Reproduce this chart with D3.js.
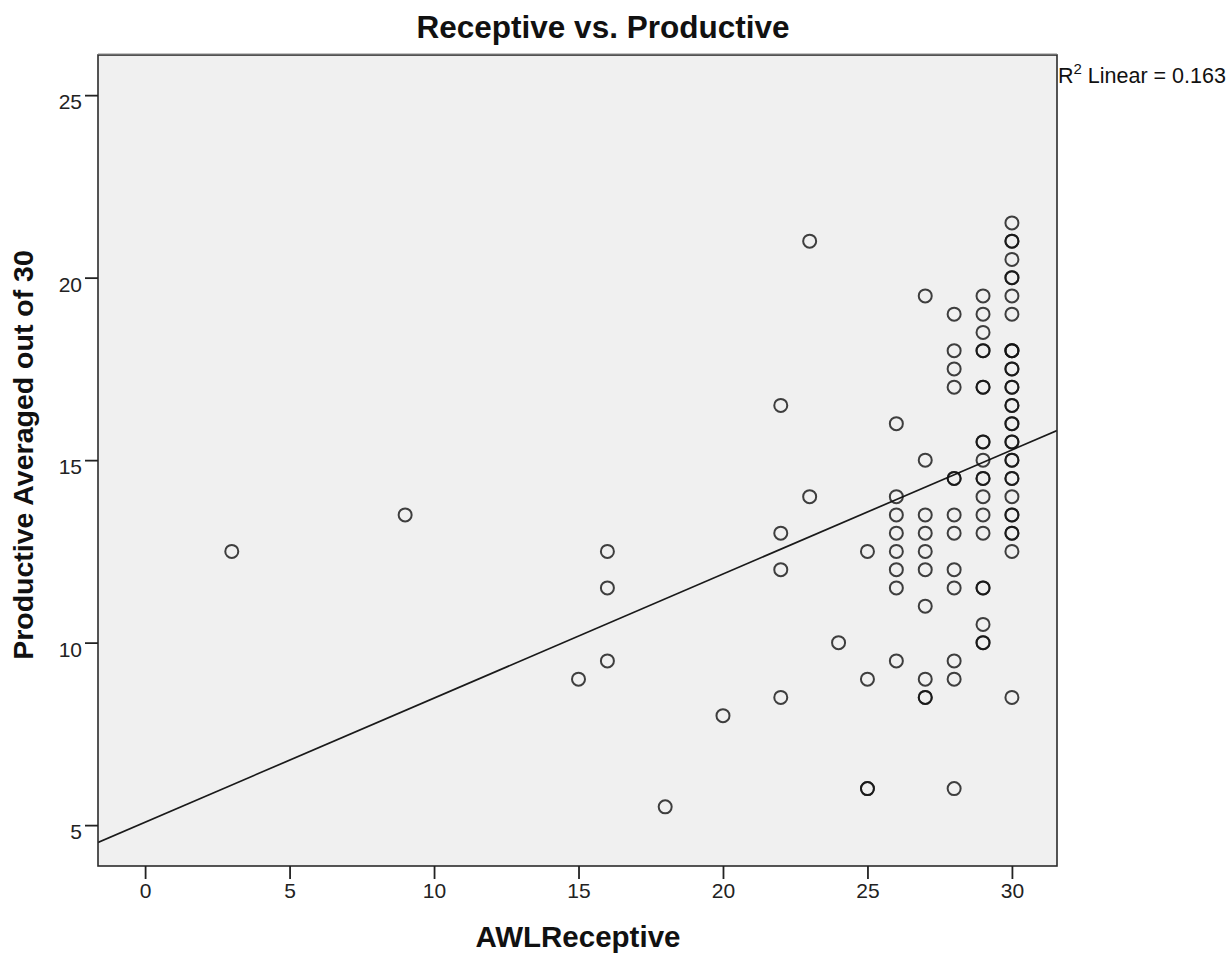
<!DOCTYPE html>
<html>
<head>
<meta charset="utf-8">
<script src="https://cdn.jsdelivr.net/npm/d3@7"></script>
<style>
  html, body { margin: 0; padding: 0; background: #fff; }
  svg { display: block; }
</style>
</head>
<body>
<svg id="chart" width="1231" height="954"></svg>
<script>
// ---- Data ----
const title = "Receptive vs. Productive";
const xLabel = "AWLReceptive";
const yLabel = "Productive Averaged out of 30";
const xTicks = [0, 5, 10, 15, 20, 25, 30];
const yTicks = [5, 10, 15, 20, 25];
const fitIntercept = 5.08;
const fitSlope = 0.34;
const rSquared = "0.163";

const receptive = [
  3, 9, 15, 16, 16, 16, 18, 20,
  22, 22, 22, 22, 23, 23, 24,
  25, 25, 25, 25,
  26, 26, 26, 26, 26, 26, 26, 26,
  27, 27, 27, 27, 27, 27, 27, 27, 27, 27,
  28, 28, 28, 28, 28, 28, 28, 28, 28, 28, 28, 28, 28,
  29, 29, 29, 29, 29, 29, 29, 29, 29, 29, 29, 29, 29, 29, 29, 29, 29, 29, 29, 29,
  30, 30, 30, 30, 30, 30, 30, 30, 30, 30, 30, 30, 30, 30, 30, 30,
  30, 30, 30, 30, 30, 30, 30, 30, 30, 30, 30, 30, 30, 30, 30, 30
];
const productive = [
  12.5, 13.5, 9, 12.5, 11.5, 9.5, 5.5, 8,
  16.5, 13, 12, 8.5, 21, 14, 10,
  12.5, 9, 6, 6,
  16, 14, 13.5, 13, 12.5, 12, 11.5, 9.5,
  19.5, 15, 13.5, 13, 12.5, 12, 11, 9, 8.5, 8.5,
  19, 18, 17.5, 17, 14.5, 14.5, 13.5, 13, 12, 11.5, 9.5, 9, 6,
  19.5, 19, 18.5, 18, 18, 17, 17, 15.5, 15.5, 15, 14.5, 14.5, 14, 13.5, 13, 11.5, 11.5, 10.5, 10, 10,
  21.5, 21, 21, 20.5, 20, 20, 19.5, 19, 18, 18, 18, 17.5, 17.5, 17, 17, 16.5,
  16.5, 16, 16, 15.5, 15.5, 15, 15, 14.5, 14.5, 14, 13.5, 13.5, 13, 13, 12.5, 8.5
];

// ---- Layout ----
const svg = d3.select("#chart");
const plot = { left: 98, top: 55, right: 1057, bottom: 866 };
const font = "'Liberation Sans', Arial, sans-serif";

const x = d3.scaleLinear().domain([-1.63, 31.56]).range([plot.left, plot.right]);
const y = d3.scaleLinear().domain([3.88, 26.1]).range([plot.bottom, plot.top]);

// plot background
svg.append("rect")
  .attr("x", plot.left).attr("y", plot.top)
  .attr("width", plot.right - plot.left).attr("height", plot.bottom - plot.top)
  .attr("fill", "#f0f0f0");

// clip
svg.append("clipPath").attr("id", "clip")
  .append("rect")
  .attr("x", plot.left).attr("y", plot.top)
  .attr("width", plot.right - plot.left).attr("height", plot.bottom - plot.top);

// fit line
const xd = x.domain();
svg.append("line")
  .attr("clip-path", "url(#clip)")
  .attr("x1", x(xd[0])).attr("y1", y(fitIntercept + fitSlope * xd[0]))
  .attr("x2", x(xd[1])).attr("y2", y(fitIntercept + fitSlope * xd[1]))
  .attr("stroke", "#1a1a1a").attr("stroke-width", 1.7);

// points
const pts = receptive.map((v, i) => ({ x: v, y: productive[i] }));
svg.append("g").attr("clip-path", "url(#clip)")
  .selectAll("circle").data(pts).join("circle")
  .attr("cx", d => x(d.x)).attr("cy", d => y(d.y))
  .attr("r", 6.5)
  .attr("fill", "none")
  .attr("stroke", "#111")
  .attr("stroke-opacity", 0.8)
  .attr("stroke-width", 2);

// frame
svg.append("rect")
  .attr("x", plot.left).attr("y", plot.top)
  .attr("width", plot.right - plot.left).attr("height", plot.bottom - plot.top)
  .attr("fill", "none").attr("stroke", "#2b2b2b").attr("stroke-width", 1.6);
svg.append("line")
  .attr("x1", plot.left).attr("x2", plot.right)
  .attr("y1", plot.top - 1).attr("y2", plot.top - 1)
  .attr("stroke", "#888").attr("stroke-width", 1);

// axes
const xAxis = d3.axisBottom(x).tickValues(xTicks).tickSize(13).tickPadding(3);
const gx = svg.append("g").attr("transform", `translate(0,${plot.bottom})`).call(xAxis);
gx.select(".domain").remove();
gx.selectAll(".tick line").attr("stroke", "#222").attr("stroke-width", 1.8);
gx.selectAll(".tick text").attr("font-family", font).attr("font-size", 21).attr("fill", "#222").attr("dy", "0.78em");

const yAxis = d3.axisLeft(y).tickValues(yTicks).tickSize(13).tickPadding(3);
const gy = svg.append("g").attr("transform", `translate(${plot.left},0)`).call(yAxis);
gy.select(".domain").remove();
gy.selectAll(".tick line").attr("stroke", "#222").attr("stroke-width", 1.8);
gy.selectAll(".tick text").attr("font-family", font).attr("font-size", 21).attr("fill", "#222").attr("dy", "0.65em");

// title
svg.append("text")
  .attr("x", 603).attr("y", 38)
  .attr("text-anchor", "middle")
  .attr("font-family", font).attr("font-size", 31.5).attr("font-weight", "bold")
  .attr("fill", "#111")
  .text(title);

// axis labels
svg.append("text")
  .attr("x", 578).attr("y", 947)
  .attr("text-anchor", "middle")
  .attr("font-family", font).attr("font-size", 29.5).attr("font-weight", "bold")
  .attr("fill", "#111")
  .text(xLabel);

svg.append("text")
  .attr("transform", "translate(33,455) rotate(-90)")
  .attr("text-anchor", "middle")
  .attr("font-family", font).attr("font-size", 28.5).attr("font-weight", "bold")
  .attr("fill", "#111")
  .text(yLabel);

// R² label
const rl = svg.append("text")
  .attr("x", 1058).attr("y", 83)
  .attr("font-family", font).attr("font-size", 21.5).attr("fill", "#111");
rl.append("tspan").text("R");
rl.append("tspan").attr("dy", -9).attr("font-size", 15).text("2");
rl.append("tspan").attr("dy", 9).text(" Linear = " + rSquared);
</script>
</body>
</html>
